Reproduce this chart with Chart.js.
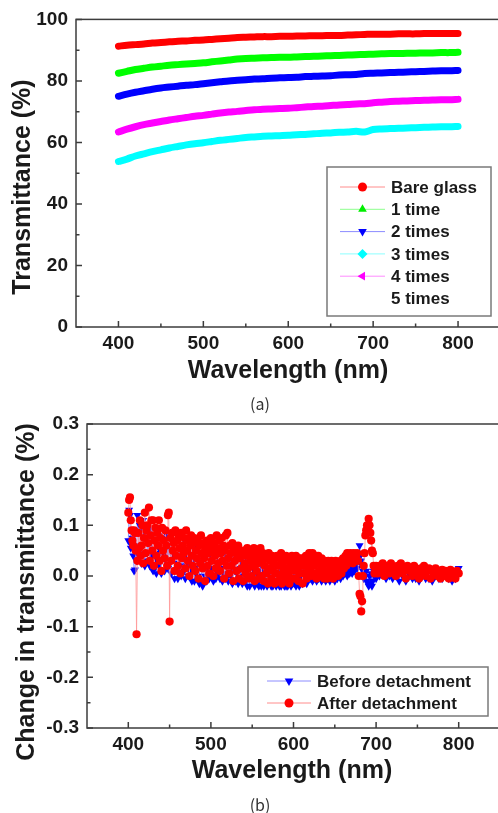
<!DOCTYPE html>
<html>
<head>
<meta charset="utf-8">
<script src="https://cdn.jsdelivr.net/npm/chart.js@4.4.1/dist/chart.umd.min.js"></script>
<style>
  body { margin:0; background:#fff; overflow:hidden; width:498px; height:813px; position:relative; }
  canvas { position:absolute; left:0; }
  #chartA { top:0; }
  #chartB { top:400px; }
  .cap { position:absolute; left:230px; width:60px; text-align:center; line-height:20px;
         font:16px "Noto Sans CJK KR", "Noto Sans", sans-serif; color:#333; z-index:2; }
</style>
</head>
<body>
<canvas id="chartA" width="520" height="400"></canvas>
<canvas id="chartB" width="520" height="400"></canvas>
<div class="cap" style="top:391px">(a)</div>
<div class="cap" style="top:792px">(b)</div>
<script>
// ---- (a) transmittance, read every 10 nm ----
const wlA = [400,410,420,430,440,450,460,470,480,490,500,510,520,530,540,550,560,570,580,590,
             600,610,620,630,640,650,660,670,680,690,700,710,720,730,740,750,760,770,780,790,800];
const bareGlass = [91.3,91.6,91.8,92.0,92.3,92.5,92.7,92.9,93.0,93.2,93.3,93.5,93.7,93.9,94.1,94.2,94.3,94.4,94.4,94.5,
                   94.5,94.6,94.6,94.7,94.7,94.8,94.8,94.9,95.0,95.1,95.2,95.2,95.2,95.3,95.3,95.3,95.4,95.4,95.4,95.4,95.4];
const time1 = [82.5,83.1,83.7,84.1,84.5,84.8,85.1,85.3,85.5,85.7,85.9,86.2,86.5,86.8,87.1,87.3,87.4,87.5,87.6,87.7,
               87.7,87.8,87.9,88.0,88.1,88.2,88.3,88.4,88.5,88.6,88.7,88.8,88.9,88.9,89.0,89.0,89.1,89.1,89.2,89.2,89.3];
const times2 = [75.0,75.7,76.3,76.8,77.3,77.7,78.0,78.3,78.6,78.8,79.1,79.4,79.7,80.0,80.2,80.4,80.6,80.7,80.9,81.0,
                81.1,81.2,81.4,81.5,81.6,81.7,81.9,82.0,82.1,82.4,82.5,82.6,82.7,82.8,82.9,83.0,83.1,83.2,83.3,83.3,83.4];
const times3 = [53.8,54.6,55.6,56.3,57.0,57.6,58.2,58.7,59.2,59.6,59.9,60.3,60.7,61.0,61.3,61.6,61.8,62.0,62.1,62.2,
                62.3,62.5,62.6,62.8,63.0,63.1,63.3,63.4,63.6,63.4,64.2,64.4,64.5,64.6,64.7,64.8,64.9,65.0,65.1,65.1,65.2];
const times4 = [63.4,64.3,65.1,65.8,66.3,66.8,67.3,67.7,68.1,68.5,68.8,69.2,69.6,69.9,70.1,70.4,70.6,70.8,70.9,71.0,
                71.1,71.3,71.5,71.7,71.8,72.0,72.2,72.3,72.5,72.6,72.9,73.1,73.3,73.4,73.5,73.6,73.7,73.8,73.9,73.9,74.0];
const namesA = ['Bare glass', '1 time', '2 times', '3 times', '4 times', '5 times'];

const xTicks = [400, 500, 600, 700, 800];
const xMinor = [450, 550, 650, 750];
const yTicksA = [0, 20, 40, 60, 80, 100];
const yMinorA = [10, 30, 50, 70, 90];

// ---- (b) change in transmittance: 1 nm up to 700, then 2 nm ----
const wlB = [400,401,402,403,404,405,406,407,408,409, 410,411,412,413,414,415,416,417,418,419,
             420,421,422,423,424,425,426,427,428,429, 430,431,432,433,434,435,436,437,438,439,
             440,441,442,443,444,445,446,447,448,449, 450,451,452,453,454,455,456,457,458,459,
             460,461,462,463,464,465,466,467,468,469, 470,471,472,473,474,475,476,477,478,479,
             480,481,482,483,484,485,486,487,488,489, 490,491,492,493,494,495,496,497,498,499,
             500,501,502,503,504,505,506,507,508,509, 510,511,512,513,514,515,516,517,518,519,
             520,521,522,523,524,525,526,527,528,529, 530,531,532,533,534,535,536,537,538,539,
             540,541,542,543,544,545,546,547,548,549, 550,551,552,553,554,555,556,557,558,559,
             560,561,562,563,564,565,566,567,568,569, 570,571,572,573,574,575,576,577,578,579,
             580,581,582,583,584,585,586,587,588,589, 590,591,592,593,594,595,596,597,598,599,
             600,601,602,603,604,605,606,607,608,609, 610,611,612,613,614,615,616,617,618,619,
             620,621,622,623,624,625,626,627,628,629, 630,631,632,633,634,635,636,637,638,639,
             640,641,642,643,644,645,646,647,648,649, 650,651,652,653,654,655,656,657,658,659,
             660,661,662,663,664,665,666,667,668,669, 670,671,672,673,674,675,676,677,678,679,
             680,681,682,683,684,685,686,687,688,689, 690,691,692,693,694,695,696,697,698,699,
             700,
             702,704,706,708,710,712,714,716,718,720, 722,724,726,728,730,732,734,736,738,740,
             742,744,746,748,750,752,754,756,758,760, 762,764,766,768,770,772,774,776,778,780,
             782,784,786,788,790,792,794,796,798,800];
const before = [0.07,0.13,0.12,0.055,0.06,0.075,0.04,0.01,0.012,0.05,
                0.03,0.12,0.085,0.04,0.1,0.06,0.025,0.09,0.11,0.045,
                0.02,0.08,0.1,0.03,0.065,0.095,0.02,0.07,0.04,0.09,
                0.01,0.06,0.085,0.035,0.005,0.07,0.045,0.02,0.08,0.05,
                0.005,0.065,0.04,0.075,0.01,0.055,0.03,0.08,0.015,0.06,
                0.08,0.03,0.005,0.06,0.04,0.07,-0.005,0.05,0.025,0.065,
                -0.005,0.045,0.02,0.06,0.0,0.035,0.07,0.01,0.05,-0.005,
                0.04,0.02,0.065,0.0,0.045,0.01,0.055,-0.01,0.03,0.05,
                -0.01,0.04,0.015,0.055,0.0,0.035,-0.015,0.045,0.02,-0.01,
                -0.02,0.03,0.045,0.0,0.02,-0.01,0.05,0.01,-0.005,0.035,
                0.0,0.045,0.015,-0.01,0.035,0.05,-0.005,0.025,0.04,0.005,
                0.05,-0.005,0.03,0.015,-0.01,0.04,0.005,0.035,-0.005,0.025,
                0.045,-0.01,0.02,0.035,0.0,0.04,-0.015,0.025,0.01,0.03,
                -0.01,0.03,0.005,-0.015,0.035,0.015,-0.005,0.025,-0.015,0.02,
                0.0,0.03,-0.01,0.02,-0.02,0.01,0.025,-0.02,0.015,-0.005,
                0.025,-0.01,0.01,-0.02,0.02,0.005,-0.015,0.03,-0.02,0.01,
                0.03,-0.02,0.005,0.015,-0.02,0.02,-0.01,0.01,-0.02,0.025,
                -0.015,0.01,0.025,-0.02,0.005,-0.02,0.015,-0.01,0.02,-0.02,
                0.02,-0.015,0.005,-0.02,0.015,-0.02,0.01,0.02,-0.015,-0.02,
                0.01,-0.02,0.015,-0.02,0.005,-0.015,0.02,-0.02,0.01,-0.015,
                0.02,-0.015,0.005,-0.02,0.015,-0.01,0.01,-0.02,0.02,-0.005,
                0.015,-0.015,0.005,0.02,-0.01,0.01,-0.015,0.015,-0.005,0.01,
                0.02,-0.005,0.01,-0.01,0.015,0.0,-0.005,0.02,-0.01,0.01,
                -0.005,0.015,0.0,0.01,-0.01,0.02,-0.005,0.01,0.0,-0.01,
                0.015,-0.005,0.01,0.0,-0.01,0.015,0.005,-0.005,0.01,0.0,
                -0.01,0.01,0.005,-0.005,0.015,0.0,0.01,-0.005,0.015,0.005,
                0.0,0.015,0.005,0.02,0.01,0.0,0.015,0.02,0.005,0.01,
                0.02,0.005,0.015,0.025,0.01,0.02,0.03,0.015,0.04,0.035,
                0.06,0.045,0.03,0.02,0.01,-0.005,0.005,0.0,0.01,-0.01,
                -0.015,-0.02,0.0,-0.015,0.005,-0.02,-0.01,0.01,0.0,0.015,
                -0.005,
                0.015,0.0,0.02,0.005,0.015,-0.005,0.015,0.0,0.02,-0.005,
                0.015,0.0,0.01,-0.01,0.015,0.0,0.01,-0.01,0.01,0.0,
                0.015,-0.005,0.01,-0.005,0.01,-0.01,0.01,0.0,0.01,-0.005,
                0.01,-0.005,0.01,-0.01,0.005,0.0,0.01,-0.005,0.01,-0.005,
                0.01,0.0,0.01,-0.005,0.01,-0.01,0.005,-0.005,0.01,0.015];
const after = [0.125,0.15,0.155,0.11,0.09,0.07,0.06,0.09,0.085,0.05,
               -0.115,0.03,0.085,0.055,0.11,0.04,0.06,0.1,0.025,0.075,
               0.125,0.045,0.09,0.1,0.065,0.135,0.03,0.08,0.11,0.05,
               0.11,0.02,0.07,0.095,0.04,0.085,0.06,0.11,0.03,0.075,
               0.01,0.095,0.05,0.07,0.035,0.09,0.06,0.02,0.12,0.125,
               -0.09,0.075,0.03,0.085,0.05,0.065,0.01,0.09,0.04,0.07,
               0.02,0.08,0.055,0.005,0.085,0.035,0.06,0.045,0.075,0.015,
               0.09,0.05,0.03,0.07,0.0,0.06,0.08,0.04,0.02,0.065,
               0.075,0.01,0.05,0.035,0.07,-0.005,0.06,0.025,0.08,0.045,
               0.015,0.065,0.035,-0.01,0.055,0.07,0.02,0.045,0.005,0.06,
               0.075,0.03,0.05,0.0,0.065,0.04,0.015,0.08,0.055,0.025,
               0.07,0.01,0.045,0.075,0.03,0.06,-0.005,0.05,0.08,0.02,
               0.085,0.035,0.005,0.06,0.045,0.02,0.065,-0.01,0.05,0.03,
               0.055,0.01,0.04,0.06,-0.005,0.035,0.05,0.015,0.045,-0.01,
               0.05,0.025,0.005,0.04,0.055,0.015,-0.005,0.045,0.03,0.0,
               0.045,0.02,0.055,-0.01,0.035,0.01,0.05,0.025,-0.005,0.04,
               0.055,0.0,0.03,0.045,-0.01,0.02,0.04,0.005,0.035,-0.015,
               0.045,0.015,0.03,-0.005,0.04,0.01,0.025,-0.015,0.035,0.005,
               0.04,-0.01,0.02,0.035,0.0,0.045,-0.015,0.025,0.01,0.03,
               -0.01,0.04,0.015,0.0,0.035,-0.015,0.025,0.01,0.04,-0.005,
               0.03,0.015,-0.005,0.04,0.01,0.025,-0.01,0.035,0.005,0.02,
               0.035,-0.015,0.02,0.03,0.005,0.04,-0.005,0.025,0.01,0.045,
               0.015,0.035,0.0,0.045,0.02,0.03,0.005,0.04,-0.005,0.025,
               0.04,0.01,0.03,0.0,0.035,0.015,0.025,-0.005,0.03,0.005,
               0.025,-0.005,0.03,0.01,0.02,0.0,0.03,0.015,-0.005,0.025,
               0.005,0.03,0.015,0.02,0.0,0.025,0.01,0.03,0.005,0.02,
               0.035,0.015,0.03,0.04,0.02,0.045,0.025,0.04,0.03,0.045,
               0.035,0.04,0.025,0.045,0.03,0.04,0.035,0.045,0.03,0.0,
               -0.035,-0.04,-0.07,-0.05,0.0,0.02,0.045,0.08,0.09,0.1,
               0.095,0.113,0.1,0.085,0.07,0.05,0.045,0.02,0.005,0.015,
               0.02,
               0.005,0.02,0.01,0.025,0.0,0.015,0.02,0.005,0.025,0.01,
               0.015,0.0,0.02,0.01,0.025,0.005,0.015,-0.005,0.02,0.01,
               0.015,0.0,0.02,0.005,0.01,-0.005,0.015,0.005,0.02,0.0,
               0.01,0.015,-0.005,0.01,0.005,0.015,0.0,0.01,-0.005,0.012,
               0.0,0.01,0.005,-0.005,0.012,0.0,0.008,-0.005,0.01,0.005];
const namesB = ['Before detachment', 'After detachment'];
const yTicksB = [-0.3, -0.2, -0.1, 0.0, 0.1, 0.2, 0.3];
const yMinorB = [-0.25, -0.15, -0.05, 0.05, 0.15, 0.25];

Chart.defaults.font.family = '"Liberation Sans", Arial, sans-serif';
Chart.defaults.color = '#1a1a1a';

function pts(xs, ys) {
  return xs.map((x, i) => ({ x: x, y: ys[i] }));
}

// draws frame, inward ticks, axis titles and the legend box
function decor(o) {
  return {
    id: 'decor',
    afterDraw(chart) {
      const ctx = chart.ctx, a = chart.chartArea;
      const sx = chart.scales.x, sy = chart.scales.y;
      ctx.save();
      ctx.strokeStyle = '#3c3c3c';
      ctx.lineWidth = 1.5;
      ctx.strokeRect(a.left, a.top, a.right - a.left, a.bottom - a.top);

      ctx.beginPath();
      xTicks.forEach(v => { const p = sx.getPixelForValue(v); ctx.moveTo(p, a.bottom); ctx.lineTo(p, a.bottom - 6); });
      xMinor.forEach(v => { const p = sx.getPixelForValue(v); ctx.moveTo(p, a.bottom); ctx.lineTo(p, a.bottom - 3.5); });
      o.yMajor.forEach(v => { const p = sy.getPixelForValue(v); ctx.moveTo(a.left, p); ctx.lineTo(a.left + 6, p); });
      o.yMinor.forEach(v => { const p = sy.getPixelForValue(v); ctx.moveTo(a.left, p); ctx.lineTo(a.left + 3.5, p); });
      ctx.stroke();

      // axis titles
      ctx.fillStyle = '#1a1a1a';
      ctx.font = 'bold 25px "Liberation Sans", Arial, sans-serif';
      ctx.textAlign = 'center';
      ctx.textBaseline = 'middle';
      ctx.fillText('Wavelength (nm)', o.xTitle[0], o.xTitle[1]);
      ctx.save();
      ctx.translate(o.yTitle[0], o.yTitle[1]);
      ctx.rotate(-Math.PI / 2);
      ctx.fillText(o.yTitleText, 0, 0);
      ctx.restore();

      // legend
      const L = o.legend;
      ctx.strokeStyle = '#7a7a7a';
      ctx.lineWidth = 1.5;
      ctx.strokeRect(L.x, L.y, L.w, L.h);
      ctx.font = 'bold 17px "Liberation Sans", Arial, sans-serif';
      ctx.textAlign = 'left';
      L.items.forEach((it, i) => {
        const y = L.row0 + i * L.gap;
        if (it.color) {
          ctx.strokeStyle = it.line;
          ctx.lineWidth = 1;
          ctx.beginPath();
          ctx.moveTo(L.lineX0, y);
          ctx.lineTo(L.lineX1, y);
          ctx.stroke();
          ctx.fillStyle = it.color;
          Chart.helpers.drawPoint(ctx, { pointStyle: it.style, radius: it.r, rotation: it.rot, borderWidth: 0 },
            (L.lineX0 + L.lineX1) / 2, y);
        }
        ctx.fillStyle = '#1a1a1a';
        ctx.fillText(it.label, L.textX, y + 1);
      });
      ctx.restore();
    }
  };
}

function fixedAxes(yw, xh, yTicks, fmt) {
  return {
    x: {
      type: 'linear', min: 350, max: 850,
      grid: { display: false, drawTicks: false },
      border: { display: false },
      afterBuildTicks: s => { s.ticks = xTicks.map(v => ({ value: v })); },
      afterFit: s => { s.height = xh; },
      ticks: { font: { size: 19, weight: 'bold' }, padding: 5, maxRotation: 0 }
    },
    y: {
      type: 'linear', min: yTicks[0], max: yTicks[yTicks.length - 1],
      grid: { display: false, drawTicks: false },
      border: { display: false },
      afterBuildTicks: s => { s.ticks = yTicks.map(v => ({ value: v })); },
      afterFit: s => { s.width = yw; },
      ticks: { font: { size: 19, weight: 'bold' }, padding: 8, callback: fmt }
    }
  };
}

// --- chart (a) ---
const colorsA = ['#ff0000', '#00ff00', '#0000ff', '#00ffff', '#ff00ff'];
const seriesA = [bareGlass, time1, times2, times3, times4];
new Chart(document.getElementById('chartA'), {
  type: 'line',
  data: {
    datasets: seriesA.map((s, i) => ({
      label: namesA[i],
      data: pts(wlA, s),
      borderColor: colorsA[i],
      borderWidth: 7,
      borderCapStyle: 'round',
      pointRadius: 0,
      tension: 0.3
    }))
  },
  options: {
    responsive: false,
    animation: false,
    layout: { padding: { top: 14, right: 19.5, bottom: 0, left: 0 } },
    plugins: { legend: { display: false }, tooltip: { enabled: false } },
    scales: fixedAxes(76, 73, yTicksA, v => String(v))
  },
  plugins: [decor({
    yMajor: yTicksA, yMinor: yMinorA,
    xTitle: [288, 371], yTitle: [23, 187], yTitleText: 'Transmittance (%)',
    legend: {
      x: 327, y: 167, w: 164, h: 149, row0: 187, gap: 22.3,
      lineX0: 340, lineX1: 385, textX: 391,
      items: [
        { label: namesA[0], color: '#ff0000', line: '#ff8c8c', style: 'circle', r: 4.5, rot: 0 },
        { label: namesA[1], color: '#00ee00', line: '#8cff8c', style: 'triangle', r: 5, rot: 0 },
        { label: namesA[2], color: '#0000ff', line: '#8c8cff', style: 'triangle', r: 5, rot: 180 },
        { label: namesA[3], color: '#00ffff', line: '#8cffff', style: 'rectRot', r: 5, rot: 0 },
        { label: namesA[4], color: '#ff00ff', line: '#ff8cff', style: 'triangle', r: 5, rot: 270 },
        { label: namesA[5] }
      ]
    }
  })]
});

// --- chart (b) ---
new Chart(document.getElementById('chartB'), {
  type: 'line',
  data: {
    datasets: [
      {
        label: namesB[0],
        data: pts(wlB, before),
        order: 2,
        borderColor: 'rgba(100,100,255,0.65)',
        borderWidth: 1,
        pointStyle: 'triangle',
        rotation: 180,
        pointRadius: 4.6,
        pointBorderWidth: 0,
        pointBackgroundColor: '#0000ff'
      },
      {
        label: namesB[1],
        data: pts(wlB, after),
        order: 1,
        borderColor: 'rgba(255,150,150,0.8)',
        borderWidth: 1,
        pointStyle: 'circle',
        pointRadius: 4.1,
        pointBorderWidth: 0,
        pointBackgroundColor: '#ff0000'
      }
    ]
  },
  options: {
    responsive: false,
    animation: false,
    layout: { padding: { top: 24, right: 20, bottom: 0, left: 0 } },
    plugins: { legend: { display: false }, tooltip: { enabled: false } },
    scales: fixedAxes(87, 72, yTicksB, v => v.toFixed(1))
  },
  plugins: [decor({
    yMajor: yTicksB, yMinor: yMinorB,
    xTitle: [292, 371], yTitle: [27, 192], yTitleText: 'Change in transmittance (%)',
    legend: {
      x: 248, y: 267, w: 240, h: 49, row0: 281, gap: 22,
      lineX0: 267, lineX1: 311, textX: 317,
      items: [
        { label: namesB[0], color: '#0000ff', line: '#8c8cff', style: 'triangle', r: 5, rot: 180 },
        { label: namesB[1], color: '#ff0000', line: '#ff8c8c', style: 'circle', r: 4.5, rot: 0 }
      ]
    }
  })]
});
</script>
</body>
</html>
